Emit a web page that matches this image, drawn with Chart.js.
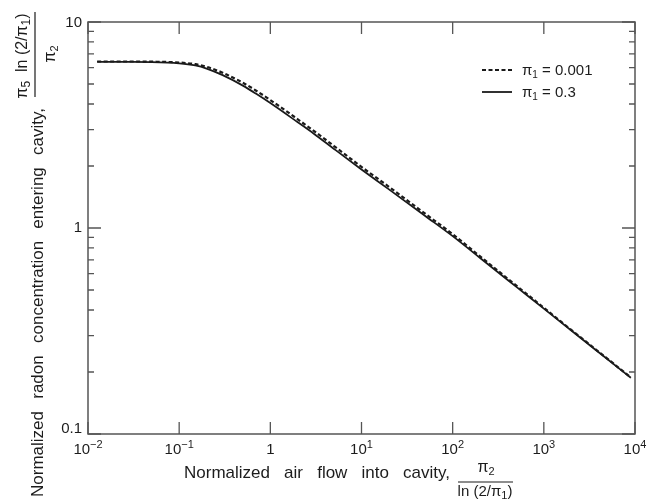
<!DOCTYPE html>
<html>
<head>
<meta charset="utf-8">
<script src="https://cdn.jsdelivr.net/npm/chart.js@4.4.1/dist/chart.umd.min.js"></script>
<style>
  html, body { margin: 0; padding: 0; background: #ffffff; }
  #wrap { width: 652px; height: 502px; }
</style>
</head>
<body>
<div id="wrap"><canvas id="c" width="652" height="502"></canvas></div>
<script>
// ---------------- data ----------------
const xValues = [0.0126, 0.02, 0.03, 0.05, 0.1, 0.15, 0.2, 0.3, 0.5, 0.7, 1, 2, 3, 5, 10, 20, 50, 100, 200, 500, 1000, 2000, 5000, 9000];
// pi1 = 0.001 (dashed)
const seriesPi1Small = [6.43, 6.43, 6.43, 6.42, 6.36, 6.24, 6.06, 5.67, 5.07, 4.64, 4.18, 3.37, 2.96, 2.50, 1.98, 1.585, 1.173, 0.933, 0.728, 0.525, 0.410, 0.320, 0.2317, 0.188];
// pi1 = 0.3 (solid)
const seriesPi1Large = [6.40, 6.40, 6.40, 6.39, 6.30, 6.15, 5.94, 5.52, 4.91, 4.48, 4.04, 3.26, 2.87, 2.42, 1.925, 1.54, 1.144, 0.913, 0.715, 0.518, 0.406, 0.318, 0.2305, 0.1875];
const seriesPiValues = ['0.001', '0.3'];
const seriesLabels = ['π₁ = 0.001', 'π₁ = 0.3'];

const xTickValues = [0.01, 0.1, 1, 10, 100, 1000, 10000];
const xTickBase = ['10', '10', '1', '10', '10', '10', '10'];
const xTickExp = ['−2', '−1', '', '1', '2', '3', '4'];

const yTickValues = [0.1, 0.2, 0.3, 0.4, 0.5, 0.6, 0.7, 0.8, 0.9, 1, 2, 3, 4, 5, 6, 7, 8, 9, 10];
const yMajorValues = [0.1, 1, 10];
const yMajorLabels = ['0.1', '1', '10'];

const xTitleWords = ['Normalized', 'air', 'flow', 'into', 'cavity,'];
const yTitleWords = ['Normalized', 'radon', 'concentration', 'entering', 'cavity,'];

// ---------------- helpers ----------------
const FONT = '"Liberation Sans", Arial, Helvetica, sans-serif';
const INK = '#1c1c1c';
const FRAME = '#555555';

function runsWidth(ctx, runs) {
  let w = 0;
  for (const r of runs) { ctx.font = r.size + 'px ' + FONT; w += ctx.measureText(r.t).width; }
  return w;
}
function drawRuns(ctx, runs, x, y, align) {
  const w = runsWidth(ctx, runs);
  let cx = align === 'center' ? x - w / 2 : (align === 'right' ? x - w : x);
  ctx.textBaseline = 'alphabetic';
  ctx.textAlign = 'left';
  for (const r of runs) {
    ctx.font = r.size + 'px ' + FONT;
    ctx.fillText(r.t, cx, y + (r.dy || 0));
    cx += ctx.measureText(r.t).width;
  }
  return w;
}
function drawSpreadWords(ctx, words, size, x0, x1, y) {
  ctx.font = size + 'px ' + FONT;
  ctx.textAlign = 'left';
  ctx.textBaseline = 'alphabetic';
  const widths = words.map(w => ctx.measureText(w).width);
  const total = widths.reduce((a, b) => a + b, 0);
  const gap = (x1 - x0 - total) / (words.length - 1);
  let cx = x0;
  words.forEach((w, i) => { ctx.fillText(w, cx, y); cx += widths[i] + gap; });
}

const decor = {
  id: 'decor',
  afterDraw(chart) {
    const ctx = chart.ctx;
    const a = chart.chartArea;
    const xs = chart.scales.x, ys = chart.scales.y;
    ctx.save();
    // frame
    ctx.strokeStyle = FRAME;
    ctx.lineWidth = 1.5;
    ctx.strokeRect(a.left, a.top, a.right - a.left, a.bottom - a.top);
    // x ticks (inward, bottom and top)
    ctx.lineWidth = 1.3;
    xs.ticks.forEach(t => {
      const px = xs.getPixelForValue(t.value);
      ctx.beginPath();
      ctx.moveTo(px, a.bottom); ctx.lineTo(px, a.bottom - 12);
      ctx.moveTo(px, a.top); ctx.lineTo(px, a.top + 12);
      ctx.stroke();
    });
    // y ticks (inward, left and right)
    ys.ticks.forEach(t => {
      const py = ys.getPixelForValue(t.value);
      const major = yMajorValues.some(v => Math.abs(v - t.value) < 1e-9);
      const len = major ? 13 : 6;
      ctx.beginPath();
      ctx.moveTo(a.left, py); ctx.lineTo(a.left + len, py);
      ctx.moveTo(a.right, py); ctx.lineTo(a.right - len, py);
      ctx.stroke();
    });
    ctx.fillStyle = INK;
    // y tick labels
    ctx.font = '15px ' + FONT;
    ctx.textAlign = 'right';
    ctx.textBaseline = 'middle';
    yMajorValues.forEach((v, i) => {
      let py = ys.getPixelForValue(v);
      py = Math.min(py, a.bottom - 5);
      py = Math.max(py, a.top + 1);
      ctx.fillText(yMajorLabels[i], a.left - 6, py);
    });
    // x tick labels with superscripts
    xTickValues.forEach((v, i) => {
      const px = xs.getPixelForValue(v);
      const runs = [{ t: xTickBase[i], size: 15 }];
      if (xTickExp[i]) runs.push({ t: xTickExp[i], size: 11, dy: -6 });
      const w = runsWidth(ctx, runs);
      let cx = px;
      if (cx + w / 2 > 649) cx = 649 - w / 2;
      drawRuns(ctx, runs, cx, 454, 'center');
    });
    // x title
    drawSpreadWords(ctx, xTitleWords, 17, 184, 450, 478);
    ctx.strokeStyle = INK;
    ctx.lineWidth = 1.2;
    ctx.beginPath(); ctx.moveTo(458, 482); ctx.lineTo(513, 482); ctx.stroke();
    drawRuns(ctx, [{ t: 'π', size: 16 }, { t: '2', size: 11, dy: 3 }], 486, 472, 'center');
    drawRuns(ctx, [{ t: 'ln (2/', size: 15 }, { t: 'π', size: 15 }, { t: '1', size: 11, dy: 3 }, { t: ')', size: 15 }], 485, 496, 'center');
    // y title (rotated)
    ctx.save();
    ctx.rotate(-Math.PI / 2); // local (u,v) -> page (v,-u)
    drawSpreadWords(ctx, yTitleWords, 17, -497, -108, 43);
    drawRuns(ctx, [{ t: 'π', size: 16 }, { t: '5', size: 12, dy: 3 }, { t: '  ln (2/', size: 16 }, { t: 'π', size: 16 }, { t: '1', size: 12, dy: 3 }, { t: ')', size: 16 }], -56, 27, 'center');
    drawRuns(ctx, [{ t: 'π', size: 16 }, { t: '2', size: 11, dy: 3 }], -54, 55, 'center');
    ctx.restore();
    ctx.beginPath(); ctx.moveTo(35, 97); ctx.lineTo(35, 12); ctx.stroke();
    // legend
    chart.data.datasets.forEach((ds, i) => {
      const ly = 70 + i * 22;
      ctx.strokeStyle = ds.borderColor;
      ctx.lineWidth = ds.borderWidth;
      ctx.setLineDash(ds.borderDash || []);
      ctx.beginPath(); ctx.moveTo(482, ly); ctx.lineTo(512, ly); ctx.stroke();
      ctx.setLineDash([]);
      drawRuns(ctx, [{ t: 'π', size: 15 }, { t: '1', size: 10, dy: 3 }, { t: ' = ' + seriesPiValues[i], size: 15 }], 522, ly + 5, 'left');
    });
    ctx.restore();
  }
};

function pts(ys) { return xValues.map((x, i) => ({ x: x, y: ys[i] })); }

new Chart(document.getElementById('c'), {
  type: 'line',
  data: {
    datasets: [
      { label: seriesLabels[0], data: pts(seriesPi1Small), borderColor: '#1a1a1a', borderWidth: 2.2, borderDash: [4, 2.5], pointRadius: 0, fill: false, cubicInterpolationMode: 'monotone' },
      { label: seriesLabels[1], data: pts(seriesPi1Large), borderColor: '#1a1a1a', borderWidth: 1.8, borderDash: [], pointRadius: 0, fill: false, cubicInterpolationMode: 'monotone' }
    ]
  },
  options: {
    responsive: false,
    animation: false,
    layout: { padding: { top: 22, right: 17, left: 0, bottom: 0 } },
    plugins: { legend: { display: false }, tooltip: { enabled: false } },
    scales: {
      x: {
        type: 'logarithmic', min: 0.01, max: 10000,
        afterBuildTicks: s => { s.ticks = xTickValues.map(v => ({ value: v })); },
        ticks: { display: false },
        grid: { display: false }, border: { display: false },
        afterFit: s => { s.height = 68; }
      },
      y: {
        type: 'logarithmic', min: 0.1, max: 10,
        afterBuildTicks: s => { s.ticks = yTickValues.map(v => ({ value: v })); },
        ticks: { display: false },
        grid: { display: false }, border: { display: false },
        afterFit: s => { s.width = 88; }
      }
    }
  },
  plugins: [decor]
});
</script>
</body>
</html>
